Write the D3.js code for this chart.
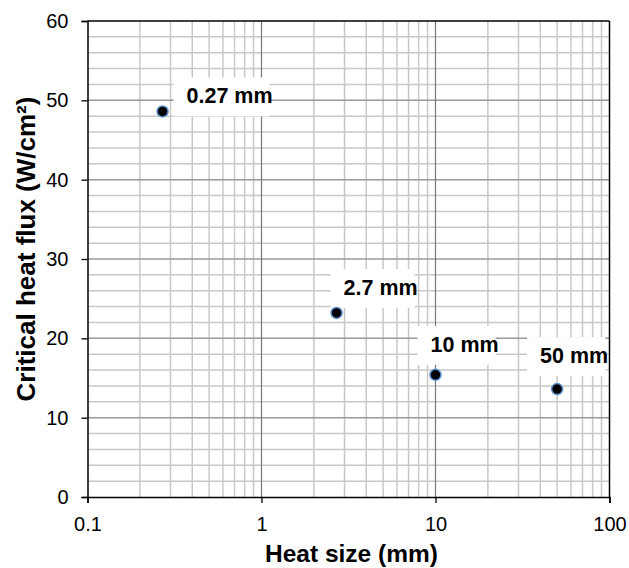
<!DOCTYPE html>
<html>
<head>
<meta charset="utf-8">
<script src="https://cdn.jsdelivr.net/npm/d3@7"></script>
<style>
  body { margin: 0; background: #fff; }
  text { font-family: "Liberation Sans", Arial, sans-serif; }
</style>
</head>
<body>
<svg id="chart" width="629" height="568"></svg>
<script>
// data
const heatSize = [0.27, 2.7, 10, 50];
const chf = [48.6, 23.2, 15.4, 13.6];
const pointLabels = ['0.27 mm', '2.7 mm', '10 mm', '50 mm'];
const xTicks = [0.1, 1, 10, 100];
const yTicks = [0, 10, 20, 30, 40, 50, 60];

// label placement relative to the point (px), dragged by hand in the original
const labelOffsets = [[24, -8], [7, -18], [-5, -23], [-17, -26]];

const margin = { top: 21, right: 19.5, bottom: 71, left: 87.5 };
const svg = d3.select('#chart');
const width = 629 - margin.left - margin.right;
const height = 568 - margin.top - margin.bottom;
const g = svg.append('g').attr('transform', 'translate(' + margin.left + ',' + margin.top + ')');

const xScale = d3.scaleLog().domain([0.1, 100]).range([0, width]);
const yScale = d3.scaleLinear().domain([0, 60]).range([height, 0]);

// minor grid
const xMinor = [];
for (let d = 0.1; d < 100; d *= 10) {
    for (let k = 2; k <= 9; k++) xMinor.push(+(d * k).toPrecision(3));
}
const yMinor = d3.range(0, 61, 2).filter(function (v) { return v % 10 !== 0; });

g.selectAll('.vminor').data(xMinor).enter().append('line')
    .attr('x1', function (d) { return xScale(d); }).attr('x2', function (d) { return xScale(d); })
    .attr('y1', 0).attr('y2', height)
    .attr('stroke', '#c8c8c8').attr('stroke-width', 1.5);
g.selectAll('.hminor').data(yMinor).enter().append('line')
    .attr('x1', 0).attr('x2', width)
    .attr('y1', function (d) { return yScale(d); }).attr('y2', function (d) { return yScale(d); })
    .attr('stroke', '#c8c8c8').attr('stroke-width', 1.5);
// major grid
g.selectAll('.hmajor').data(yTicks.slice(1, -1)).enter().append('line')
    .attr('x1', 0).attr('x2', width)
    .attr('y1', function (d) { return yScale(d); }).attr('y2', function (d) { return yScale(d); })
    .attr('stroke', '#9a9a9a').attr('stroke-width', 1.5);
g.selectAll('.vmajor').data(xTicks.slice(1, -1)).enter().append('line')
    .attr('x1', function (d) { return xScale(d); }).attr('x2', function (d) { return xScale(d); })
    .attr('y1', 0).attr('y2', height)
    .attr('stroke', '#777').attr('stroke-width', 1.2);

// border top/right
g.append('line').attr('x1', 0).attr('x2', width).attr('y1', 0).attr('y2', 0)
    .attr('stroke', '#000').attr('stroke-width', 1.5);
g.append('line').attr('x1', width).attr('x2', width).attr('y1', 0).attr('y2', height)
    .attr('stroke', '#000').attr('stroke-width', 1.5);

// axes
const xAxis = d3.axisBottom(xScale).tickValues(xTicks).tickSize(6).tickPadding(14)
    .tickFormat(function (d) { return String(d); });
const yAxis = d3.axisLeft(yScale).tickValues(yTicks).tickSize(6).tickPadding(13);

g.append('g').attr('transform', 'translate(0,' + height + ')')
    .call(xAxis)
    .call(function (a) {
        a.select('.domain').attr('stroke-width', 1.5);
        a.selectAll('.tick line').attr('stroke-width', 1.3);
        a.selectAll('.tick text').attr('font-size', 20).attr('font-family', '"Liberation Sans", Arial, sans-serif').attr('fill', '#000');
    });
g.append('g')
    .call(yAxis)
    .call(function (a) {
        a.select('.domain').attr('stroke-width', 1.5);
        a.selectAll('.tick line').attr('stroke-width', 1.3);
        a.selectAll('.tick text').attr('font-size', 20).attr('font-family', '"Liberation Sans", Arial, sans-serif').attr('fill', '#000');
    });

// labels with white boxes
const labels = g.append('g');
heatSize.forEach(function (v, i) {
    const tx = xScale(v) + labelOffsets[i][0];
    const ty = yScale(chf[i]) + labelOffsets[i][1];
    const rect = labels.append('rect').attr('fill', '#fff');
    const t = labels.append('text')
        .attr('x', tx).attr('y', ty)
        .attr('font-size', 21.5).attr('font-weight', 'bold')
        .text(pointLabels[i]);
    const w = t.node().getComputedTextLength();
    rect.attr('x', tx - 13).attr('y', ty - 26).attr('width', w + 10).attr('height', 39);
});

// points
g.selectAll('.pt').data(heatSize).enter().append('circle')
    .attr('cx', function (d) { return xScale(d); })
    .attr('cy', function (d, i) { return yScale(chf[i]); })
    .attr('r', 5.5)
    .attr('fill', '#000')
    .attr('stroke', '#5b8fd0').attr('stroke-width', 1.5);

// titles
svg.append('text')
    .attr('x', margin.left + width / 2 + 3).attr('y', 562)
    .attr('text-anchor', 'middle').attr('font-size', 24.5).attr('font-weight', 'bold')
    .text('Heat size (mm)');
svg.append('text')
    .attr('transform', 'translate(35,249) rotate(-90)')
    .attr('text-anchor', 'middle').attr('font-size', 26).attr('font-weight', 'bold')
    .text('Critical heat flux (W/cm²)');
</script>
</body>
</html>
